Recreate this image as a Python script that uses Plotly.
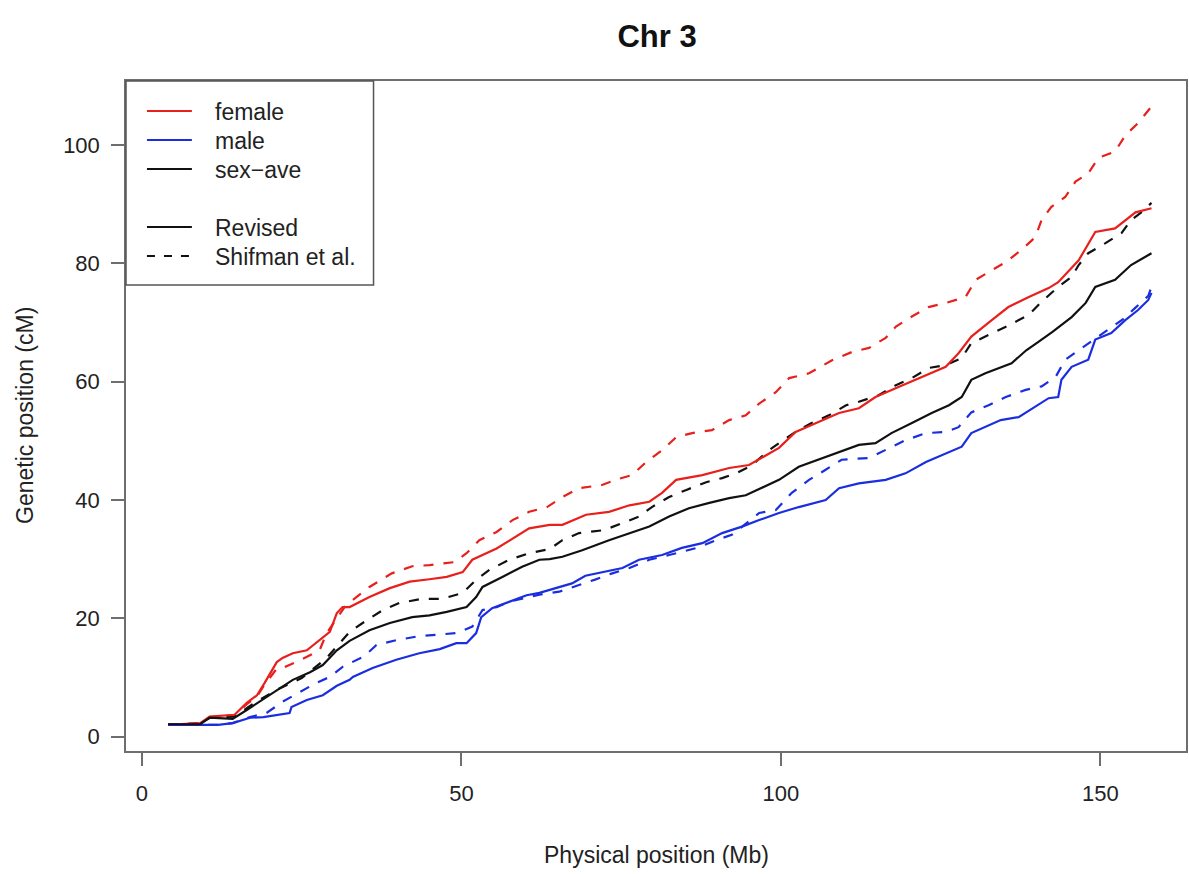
import plotly.graph_objects as go

# ---------------- data ----------------
female_rev_x = [4.1, 9.1, 10.6, 14.5, 16.4, 18.0, 19.2, 21.1, 22.0, 23.6, 25.8, 27.8, 29.4, 30.5, 31.4, 32.5,
                35.6, 38.8, 41.9, 45.0, 47.7, 50.2, 51.7, 55.5, 58.6, 60.6, 63.8, 65.8, 69.5, 73.1, 76.3, 79.4,
                81.4, 83.6, 87.7, 91.9, 95.0, 97.0, 99.7, 102.3, 105.5, 109.1, 112.2, 114.8, 118.4, 122.0,
                125.8, 127.8, 129.8, 133.0, 135.6, 138.8, 141.9, 143.4, 146.6, 149.2, 152.3, 155.5, 158.0]
female_rev_y = [2.0, 2.3, 3.4, 3.7, 5.7, 7.0, 9.1, 12.6, 13.3, 14.1, 14.6, 16.3, 17.7, 20.9, 21.9, 21.9,
                23.6, 25.1, 26.2, 26.6, 27.0, 27.8, 29.9, 31.8, 33.8, 35.2, 35.8, 35.8, 37.5, 38.0, 39.1, 39.7,
                41.2, 43.4, 44.2, 45.4, 45.9, 47.1, 48.8, 51.5, 53.0, 54.7, 55.5, 57.4, 59.1, 60.8,
                62.5, 64.8, 67.6, 70.4, 72.6, 74.3, 75.8, 76.8, 80.5, 85.3, 85.9, 88.6, 89.3]

female_shif_x = [4.1, 9.1, 10.6, 14.5, 16.4, 18.0, 19.2, 21.1, 22.0, 24.7, 27.8, 28.9, 31.9, 35.6, 39.1, 42.3,
                 45.0, 48.9, 50.8, 52.8, 55.5, 58.0, 60.6, 63.4, 65.8, 68.4, 71.9, 74.4, 76.7, 78.9, 81.4,
                 83.6, 86.1, 89.2, 91.9, 94.5, 96.6, 99.2, 101.3, 104.4, 108.0, 111.1, 113.8, 116.4, 118.0,
                 120.5, 123.1, 125.8, 128.9, 130.5, 132.5, 135.2, 137.7, 139.8, 140.8, 142.3, 144.5, 146.1,
                 148.1, 149.7, 152.3, 153.9, 155.9, 158.0]
female_shif_y = [2.0, 2.3, 3.3, 3.6, 5.5, 6.8, 8.8, 11.5, 11.6, 12.9, 14.6, 17.5, 22.2, 25.3, 27.6, 28.8,
                 29.0, 29.5, 31.0, 33.2, 34.6, 36.6, 38.0, 38.8, 40.5, 42.0, 42.5, 43.5, 44.2, 46.4, 48.4,
                 50.6, 51.3, 51.8, 53.5, 54.3, 56.3, 58.2, 60.6, 61.4, 63.6, 65.0, 65.7, 67.4, 69.3,
                 71.0, 72.6, 73.3, 74.3, 77.2, 78.5, 80.2, 82.3, 84.4, 87.3, 89.5, 91.2, 93.8,
                 95.2, 97.8, 98.9, 101.6, 103.7, 106.5]

male_rev_x = [4.1, 11.9, 14.2, 16.9, 19.0, 21.1, 23.1, 23.4, 25.8, 28.3, 30.5, 32.5, 33.0, 36.1, 39.8, 43.4,
              46.6, 49.2, 50.8, 52.3, 53.1, 54.8, 57.5, 60.2, 62.2, 63.8, 67.3, 69.4, 71.9, 75.2, 77.8,
              81.4, 84.5, 87.7, 90.8, 93.9, 96.6, 99.7, 102.8, 107.0, 109.1, 112.2, 116.4, 119.5, 122.7,
              125.8, 128.3, 129.8, 132.0, 134.4, 137.2, 139.8, 141.9, 143.4, 143.9, 145.5, 148.1, 149.2,
              151.7, 153.9, 155.9, 157.5, 158.0]
male_rev_y = [2.0, 2.0, 2.3, 3.2, 3.3, 3.7, 4.0, 5.0, 6.2, 7.0, 8.6, 9.6, 10.1, 11.6, 13.0, 14.1,
              14.8, 15.8, 15.8, 17.5, 20.2, 21.7, 22.8, 23.9, 24.3, 24.8, 25.9, 27.2, 27.8, 28.5, 29.9,
              30.7, 31.9, 32.7, 34.4, 35.5, 36.6, 37.8, 38.8, 40.0, 42.0, 42.8, 43.4, 44.5, 46.4,
              47.9, 49.0, 51.3, 52.3, 53.5, 54.0, 55.7, 57.2, 57.4, 60.3, 62.5, 63.7, 67.1,
              68.2, 70.4, 72.1, 73.8, 75.0]

male_shif_x = [4.1, 11.9, 14.2, 16.9, 19.5, 22.0, 27.3, 29.4, 31.4, 34.8, 36.7, 39.8, 43.4, 49.2, 51.7, 53.3,
               55.5, 57.5, 62.2, 65.3, 70.8, 73.6, 76.3, 79.4, 82.5, 85.2, 87.2, 89.8, 92.3, 96.6, 99.2,
               101.7, 104.4, 107.0, 109.5, 113.8, 117.3, 119.5, 122.7, 125.8, 127.8, 129.8, 132.5, 135.2,
               138.3, 140.8, 143.0, 144.5, 146.6, 148.6, 151.0, 153.5, 155.5, 157.5, 158.0]
male_shif_y = [2.0, 2.0, 2.3, 3.3, 4.0, 5.9, 9.1, 10.1, 11.8, 13.6, 15.5, 16.3, 17.0, 17.5, 18.6, 21.4,
               21.9, 22.8, 24.0, 24.5, 26.5, 27.6, 28.5, 29.9, 30.7, 31.5, 32.0, 33.2, 34.1, 37.8, 38.3,
               41.2, 43.4, 45.1, 46.8, 47.1, 49.0, 50.1, 51.3, 51.5, 52.3, 54.8, 56.0, 57.4,
               58.6, 59.2, 60.8, 63.7, 65.3, 66.8, 68.5, 70.5, 72.5, 74.5, 76.0]

ave_rev_x = [4.1, 9.1, 10.6, 14.2, 16.4, 18.4, 21.1, 23.6, 26.3, 28.3, 30.5, 32.5, 35.6, 38.8, 42.3, 45.0,
             47.7, 50.8, 52.3, 53.3, 56.4, 59.5, 62.2, 63.8, 65.8, 68.9, 73.1, 76.3, 79.4, 82.5, 85.6,
             88.8, 91.9, 94.5, 97.0, 99.7, 102.8, 105.9, 109.1, 112.2, 114.8, 117.3, 120.5, 123.6, 126.3,
             128.3, 129.8, 132.0, 136.1, 138.4, 140.3, 142.5, 145.5, 147.7, 149.2, 152.3, 154.8, 158.0]
ave_rev_y = [2.1, 2.1, 3.2, 3.0, 4.5, 5.9, 7.9, 9.6, 10.9, 12.1, 14.6, 16.2, 18.0, 19.2, 20.2, 20.5,
             21.1, 21.9, 23.6, 25.3, 27.0, 28.7, 29.9, 30.0, 30.4, 31.5, 33.2, 34.4, 35.5, 37.2, 38.6,
             39.5, 40.3, 40.8, 42.0, 43.4, 45.6, 46.8, 48.1, 49.3, 49.6, 51.3, 53.0, 54.7, 56.0,
             57.4, 60.3, 61.4, 63.1, 65.3, 66.7, 68.4, 70.9, 73.3, 76.0, 77.2, 79.7, 81.7]

ave_shif_x = [4.1, 9.1, 10.6, 14.5, 16.4, 18.0, 21.6, 25.0, 28.9, 30.9, 32.5, 35.2, 37.7, 40.3, 43.9, 47.0,
              50.2, 52.3, 54.4, 57.5, 60.6, 63.8, 65.8, 68.4, 72.3, 75.2, 77.8, 79.8, 82.5, 85.2, 88.3,
              90.8, 93.0, 95.5, 98.1, 99.7, 102.3, 104.8, 107.5, 110.2, 112.2, 115.3, 118.0, 120.5, 123.1,
              125.8, 128.3, 129.8, 132.5, 135.3, 138.8, 140.8, 143.4, 145.5, 146.6, 148.1, 150.8, 153.3,
              154.8, 156.4, 158.0]
ave_shif_y = [2.1, 2.2, 3.2, 3.4, 4.8, 6.0, 8.2, 9.9, 13.3, 15.8, 17.7, 19.7, 21.4, 22.6, 23.3, 23.3,
              24.3, 26.5, 28.2, 29.9, 31.0, 31.7, 33.2, 34.4, 34.9, 36.1, 37.2, 38.8, 40.5, 41.7, 43.0,
              43.7, 44.5, 45.9, 48.4, 49.6, 51.5, 53.0, 54.3, 56.0, 56.6, 57.7, 59.4, 60.6, 62.3,
              62.8, 64.0, 66.5, 67.9, 69.3, 71.3, 73.5, 76.0, 77.7, 79.7, 81.7, 83.4, 85.1,
              87.3, 88.6, 90.2]

x_ticks = [0, 50, 100, 150]
y_ticks = [0, 20, 40, 60, 80, 100]

legend_labels = ["female", "male", "sex\u2212ave", "", "Revised", "Shifman et al."]

# ---------------- styling ----------------
RED = "#e8201c"
BLUE = "#1a2ee0"
BLACK = "#111111"
DASH = "10px,10px"
FONT = "Liberation Sans, Arial, Helvetica, sans-serif"
LW = 2.2
TXT = 23
legend_colors = [RED, BLUE, BLACK, None, BLACK, BLACK]
legend_dashes = ["solid", "solid", "solid", None, "solid", "8px,9px"]

# plot area in pixels (for placing the hand-drawn legend in paper units)
L, R, T, B = 126, 1188, 81, 751
W, H = R - L, B - T


def px(xp):
    return (xp - L) / W


def py(yp):
    return (B - yp) / H


fig = go.Figure()

series = [
    (female_shif_x, female_shif_y, RED, DASH, "female (Shifman et al.)"),
    (male_shif_x, male_shif_y, BLUE, DASH, "male (Shifman et al.)"),
    (ave_shif_x, ave_shif_y, BLACK, DASH, "sex-ave (Shifman et al.)"),
    (female_rev_x, female_rev_y, RED, "solid", "female (Revised)"),
    (male_rev_x, male_rev_y, BLUE, "solid", "male (Revised)"),
    (ave_rev_x, ave_rev_y, BLACK, "solid", "sex-ave (Revised)"),
]
for xs, ys, col, dash, nm in series:
    fig.add_trace(go.Scatter(x=xs, y=ys, mode="lines", name=nm, showlegend=False,
                             line=dict(color=col, width=LW, dash=dash)))

# legend drawn R-style: box, line samples, labels
shapes = [dict(type="rect", xref="paper", yref="paper", x0=px(L), x1=px(374), y0=py(285), y1=py(T),
               line=dict(color="#555555", width=1.5), fillcolor="white", layer="above")]
annotations = []
for i, (lab, col, dsh) in enumerate(zip(legend_labels, legend_colors, legend_dashes)):
    if not lab:
        continue
    yrow = 111 + 29 * i
    shapes.append(dict(type="line", xref="paper", yref="paper", x0=px(147), x1=px(192),
                       y0=py(yrow), y1=py(yrow), line=dict(color=col, width=LW, dash=dsh), layer="above"))
    annotations.append(dict(text=lab, x=px(213), y=py(yrow + 1), xref="paper", yref="paper",
                            xanchor="left", yanchor="middle", showarrow=False,
                            font=dict(family=FONT, size=TXT, color="#222222")))

annotations += [
    dict(text="Physical position (Mb)", x=0.5, y=0, xref="paper", yref="paper",
         xanchor="center", yanchor="middle", yshift=-(855 - B), showarrow=False,
         font=dict(family=FONT, size=TXT, color="#222222")),
    dict(text="Genetic position (cM)", x=0, y=0.5, xref="paper", yref="paper",
         xanchor="center", yanchor="middle", xshift=-(L - 25), textangle=-90, showarrow=False,
         font=dict(family=FONT, size=TXT, color="#222222")),
]

axis_common = dict(
    showline=True, linecolor="#6e6e6e", linewidth=1.5, mirror=True,
    ticks="outside", ticklen=13, tickwidth=1.5, tickcolor="#6e6e6e",
    showgrid=False, zeroline=False,
    tickfont=dict(family=FONT, size=TXT - 1, color="#222222"),
)

fig.update_layout(
    width=1189, height=874,
    paper_bgcolor="white", plot_bgcolor="white",
    margin=dict(l=L, r=1189 - R, t=T, b=874 - B),
    font=dict(family=FONT, color="#222222"),
    showlegend=False,
    title=dict(text="<b>Chr 3</b>", x=(L + R) / 2 / 1189, xanchor="center",
               y=1 - 36 / 874, yanchor="middle", yref="container",
               font=dict(family=FONT, size=31, color="#111111")),
    xaxis=dict(range=[-2.5, 163.4], tickvals=x_ticks, ticklabelstandoff=9, **axis_common),
    yaxis=dict(range=[-2.42, 110.8], tickvals=y_ticks, ticklabelstandoff=7, **axis_common),
    shapes=shapes,
    annotations=annotations,
)

fig.write_html("out.html", config={"displayModeBar": False},
               post_script="document.body.style.margin='0px';")
